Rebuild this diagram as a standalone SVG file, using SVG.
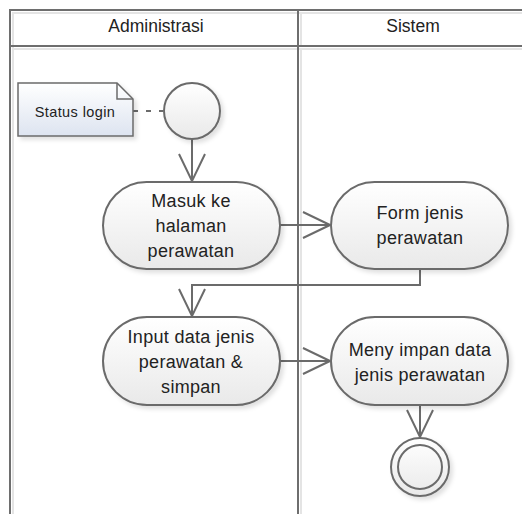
<svg xmlns="http://www.w3.org/2000/svg" width="522" height="514" viewBox="0 0 522 514">
<style>
.frame{fill:none;stroke:#6e6e6e;stroke-width:2}
.frame2{fill:none;stroke:#e4e4e4;stroke-width:2}
.act{fill:url(#g);stroke:#6b6b6b;stroke-width:2;filter:url(#sh)}
.note{fill:url(#gn);stroke:#6b6b6b;stroke-width:1.5;filter:url(#sh)}
.con{fill:none;stroke:#6b6b6b;stroke-width:2}
text{font-family:"Liberation Sans",Arial,sans-serif;fill:#222;text-anchor:middle}
.t{font-size:18px;letter-spacing:0.3px}
.h{font-size:17.5px}
.n{font-size:14.5px;letter-spacing:0.4px}
</style>
<defs>
<linearGradient id="g" x1="0" y1="0" x2="0" y2="1"><stop offset="0" stop-color="#ffffff"/><stop offset="1" stop-color="#e9e9e9"/></linearGradient>
<linearGradient id="gn" x1="0" y1="0" x2="0" y2="1"><stop offset="0" stop-color="#ffffff"/><stop offset="1" stop-color="#dde4f0"/></linearGradient>
<filter id="sh" x="-20%" y="-20%" width="140%" height="150%"><feDropShadow dx="3" dy="3" stdDeviation="2" flood-color="#000" flood-opacity="0.12"/></filter>
<marker id="arr" markerUnits="userSpaceOnUse" viewBox="-30 -15 32 30" refX="0" refY="0" markerWidth="32" markerHeight="30" orient="auto"><path d="M-27,-13 L0,0 L-27,13" fill="none" stroke="#6b6b6b" stroke-width="2"/></marker>
</defs>
<g id="lanes">
<path class="frame2" d="M13,515 V13 H522 M13,49 H522 M301,49 V515 M301,13 V46"/>
<path class="frame" d="M10,515 V10 H522 M10,46 H522 M298,10 V515"/>
<text class="h" x="156" y="32">Administrasi</text>
<text class="h" x="413" y="32">Sistem</text>
</g>
<g id="connectors">
<path class="con" d="M133,111 H163" stroke-dasharray="5,8"/>
<path class="con" d="M192,139 V181" marker-end="url(#arr)"/>
<path class="con" d="M280,225 H330" marker-end="url(#arr)"/>
<path class="con" d="M420,269 V285 H192 V316" marker-end="url(#arr)"/>
<path class="con" d="M280,361 H330" marker-end="url(#arr)"/>
<path class="con" d="M420,405 V437" marker-end="url(#arr)"/>
</g>
<g id="note">
<path class="note" d="M18,83 H117 L133,99 V136 H18 Z"/>
<path d="M117,83 V99 H133" fill="none" stroke="#6b6b6b" stroke-width="1.5"/>
<text class="n" x="75" y="117">Status login</text>
</g>
<g id="start"><circle class="act" cx="192" cy="111" r="28"/></g>
<g id="masuk">
<rect class="act" x="103" y="182" width="177" height="87" rx="43.5"/>
<text class="t" x="191" y="207">Masuk ke</text>
<text class="t" x="191" y="232">halaman</text>
<text class="t" x="191" y="257">perawatan</text>
</g>
<g id="form">
<rect class="act" x="331" y="182" width="177" height="87" rx="43.5"/>
<text class="t" x="420" y="219">Form jenis</text>
<text class="t" x="420" y="244">perawatan</text>
</g>
<g id="input">
<rect class="act" x="103" y="317" width="177" height="88" rx="44"/>
<text class="t" x="191" y="343">Input data jenis</text>
<text class="t" x="191" y="368">perawatan &amp;</text>
<text class="t" x="191" y="393">simpan</text>
</g>
<g id="menyimpan">
<rect class="act" x="331" y="317" width="177" height="88" rx="44"/>
<text class="t" x="420" y="356">Meny impan data</text>
<text class="t" x="420" y="381">jenis perawatan</text>
</g>
<g id="end">
<circle class="act" cx="420" cy="467" r="29"/>
<circle cx="420" cy="467" r="22" fill="none" stroke="#6b6b6b" stroke-width="2"/>
</g>
</svg>
